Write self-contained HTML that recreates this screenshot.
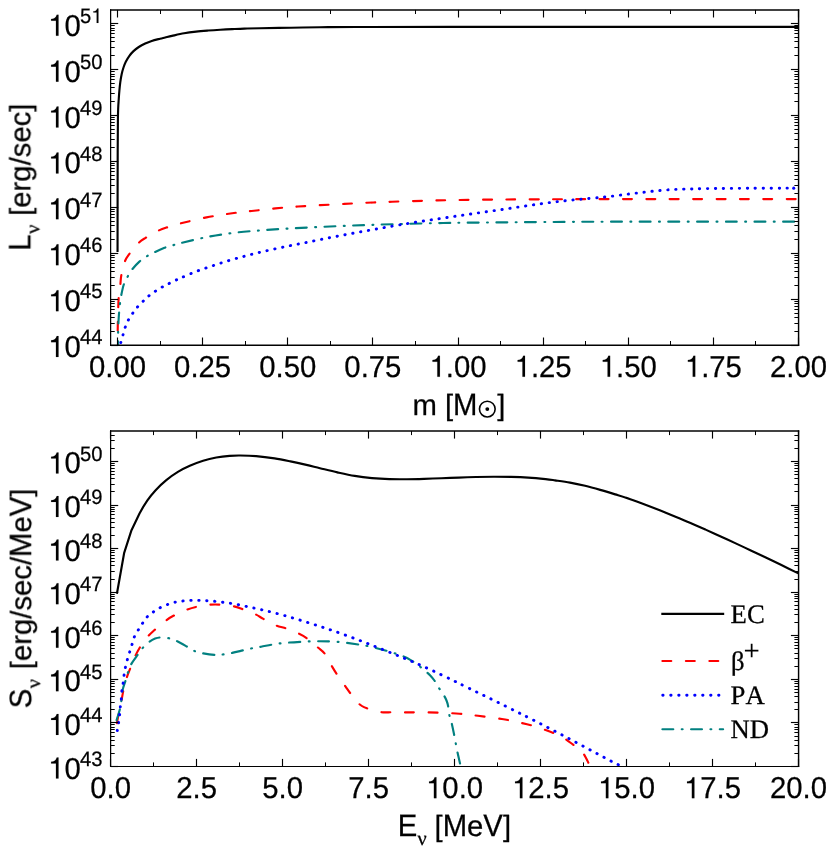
<!DOCTYPE html>
<html><head><meta charset="utf-8"><title>plot</title>
<style>html,body{margin:0;padding:0;background:#fff;}svg{display:block;will-change:transform;}text{text-rendering:geometricPrecision;}</style>
</head><body>
<svg width="830" height="852" viewBox="0 0 830 852">
<defs>
<clipPath id="c1"><rect x="110.62" y="9.9" width="687.88" height="335.20"/></clipPath>
<clipPath id="c2"><rect x="110.62" y="431.0" width="687.88" height="335.50"/></clipPath>
</defs>
<rect width="830" height="852" fill="#fff"/>
<g opacity="0.999">
<path d="M117.55,252.00 C117.56,243.33 117.57,217.00 117.60,200.00 C117.62,183.00 117.65,163.37 117.70,150.00 C117.75,136.63 117.82,126.80 117.90,119.80 C117.98,112.80 118.07,111.33 118.20,108.00 C118.33,104.67 118.50,102.73 118.70,99.80 C118.90,96.87 119.13,93.33 119.40,90.40 C119.67,87.47 119.92,84.93 120.30,82.20 C120.68,79.47 121.17,76.45 121.70,74.00 C122.23,71.55 122.82,69.55 123.50,67.50 C124.18,65.45 124.82,63.65 125.80,61.70 C126.78,59.75 128.12,57.57 129.40,55.80 C130.68,54.03 131.93,52.57 133.50,51.10 C135.07,49.63 136.85,48.27 138.80,47.00 C140.75,45.73 143.05,44.52 145.20,43.50 C147.35,42.48 149.23,41.70 151.70,40.90 C154.17,40.10 157.75,39.27 160.00,38.70 C162.25,38.13 163.20,37.97 165.20,37.50 C167.20,37.03 168.85,36.60 172.00,35.90 C175.15,35.20 180.08,34.02 184.10,33.30 C188.12,32.58 192.08,32.07 196.10,31.60 C200.12,31.13 204.18,30.82 208.20,30.50 C212.22,30.18 216.18,29.93 220.20,29.70 C224.22,29.47 228.28,29.28 232.30,29.10 C236.32,28.92 239.68,28.75 244.30,28.60 C248.92,28.45 252.22,28.35 260.00,28.20 C267.78,28.05 281.00,27.85 291.00,27.70 C301.00,27.55 309.17,27.42 320.00,27.30 C330.83,27.18 334.33,27.07 356.00,27.00 C377.67,26.93 409.33,26.92 450.00,26.90 C490.67,26.88 541.85,26.90 600.00,26.90 C658.15,26.90 765.75,26.90 798.90,26.90" fill="none" stroke="#000000" stroke-width="2.15" stroke-linejoin="round" stroke-linecap="butt" clip-path="url(#c1)"/>
<path d="M117.70,330.50 C117.73,328.75 117.78,324.58 117.90,320.00 C118.02,315.42 118.18,307.67 118.40,303.00 C118.62,298.33 118.88,295.00 119.20,292.00 C119.52,289.00 119.93,287.87 120.30,285.00 C120.67,282.13 120.65,278.70 121.40,274.80 C122.15,270.90 123.47,265.08 124.80,261.60 C126.13,258.12 127.15,256.97 129.40,253.90 C131.65,250.83 135.62,245.87 138.30,243.20 C140.98,240.53 142.27,239.93 145.50,237.90 C148.73,235.87 154.02,232.78 157.70,231.00 C161.38,229.22 163.88,228.45 167.60,227.20 C171.32,225.95 173.52,225.16 180.00,223.52 C186.48,221.89 198.10,219.05 206.50,217.38 C214.90,215.71 222.88,214.55 230.40,213.49 C237.92,212.42 244.10,211.84 251.60,210.99 C259.10,210.15 267.68,209.15 275.40,208.41 C283.12,207.67 290.38,207.10 297.90,206.55 C305.42,206.01 312.77,205.59 320.50,205.15 C328.23,204.71 336.57,204.30 344.30,203.91 C352.03,203.51 358.95,203.13 366.90,202.77 C374.85,202.41 380.20,202.14 392.00,201.75 C403.80,201.35 422.13,200.77 437.70,200.41 C453.27,200.06 469.52,199.79 485.40,199.62 C501.28,199.44 512.23,199.43 533.00,199.34 C553.77,199.26 565.68,199.14 610.00,199.10 C654.32,199.06 767.42,199.10 798.90,199.10" fill="none" stroke="#ff0000" stroke-width="2.15" stroke-linejoin="round" stroke-dasharray="8.842 14.505" stroke-dashoffset="0.000" stroke-linecap="round" clip-path="url(#c1)"/>
<path d="M118.10,345.10 C118.10,343.07 118.00,337.42 118.10,332.90 C118.20,328.38 118.40,322.77 118.70,318.00 C119.00,313.23 119.48,308.05 119.90,304.30 C120.32,300.55 120.55,298.80 121.20,295.50 C121.85,292.20 122.80,287.50 123.80,284.50 C124.80,281.50 125.88,279.92 127.20,277.50 C128.52,275.08 129.67,272.65 131.70,270.00 C133.73,267.35 136.93,263.85 139.40,261.60 C141.87,259.35 144.03,258.03 146.50,256.50 C148.97,254.97 151.20,253.85 154.20,252.40 C157.20,250.95 161.50,248.95 164.50,247.80 C167.50,246.65 169.52,246.28 172.20,245.50 C174.88,244.72 174.88,244.50 180.60,243.10 C186.32,241.71 197.77,238.84 206.50,237.14 C215.23,235.45 224.17,234.07 233.00,232.95 C241.83,231.84 250.67,231.17 259.50,230.45 C268.33,229.74 277.17,229.20 286.00,228.67 C294.83,228.14 303.67,227.71 312.50,227.28 C321.33,226.84 330.17,226.43 339.00,226.07 C347.83,225.70 356.67,225.39 365.50,225.08 C374.33,224.78 379.08,224.58 392.00,224.23 C404.92,223.89 425.67,223.33 443.00,223.02 C460.33,222.72 468.17,222.64 496.00,222.42 C523.83,222.20 559.52,221.82 610.00,221.70 C660.48,221.58 767.42,221.70 798.90,221.70" fill="none" stroke="#008080" stroke-width="2.15" stroke-linejoin="round" stroke-dasharray="10.887 8.440 0.899 8.440" stroke-dashoffset="6.967" stroke-linecap="round" clip-path="url(#c1)"/>
<path d="M120.80,342.60 C121.17,341.32 122.27,337.45 123.00,334.90 C123.73,332.35 124.30,329.80 125.20,327.30 C126.10,324.80 127.20,322.17 128.40,319.90 C129.60,317.63 131.03,315.68 132.40,313.70 C133.77,311.72 134.88,310.00 136.60,308.00 C138.32,306.00 140.77,303.63 142.70,301.70 C144.63,299.77 146.27,298.02 148.20,296.40 C150.13,294.78 152.17,293.40 154.30,291.96 C156.43,290.52 158.87,288.99 161.00,287.75 C163.13,286.51 164.85,285.69 167.10,284.53 C169.35,283.36 172.13,281.88 174.50,280.74 C176.87,279.61 177.73,279.24 181.30,277.71 C184.87,276.19 190.82,273.53 195.90,271.58 C200.98,269.64 206.50,267.83 211.80,266.05 C217.10,264.26 222.40,262.49 227.70,260.90 C233.00,259.30 238.52,257.83 243.60,256.46 C248.68,255.10 253.12,253.95 258.20,252.72 C263.28,251.49 268.80,250.26 274.10,249.09 C279.40,247.93 284.92,246.75 290.00,245.70 C295.08,244.65 299.52,243.84 304.60,242.80 C309.68,241.77 315.20,240.57 320.50,239.50 C325.80,238.43 331.10,237.41 336.40,236.39 C341.70,235.37 347.00,234.36 352.30,233.37 C357.60,232.38 362.90,231.41 368.20,230.46 C373.50,229.50 379.02,228.52 384.10,227.61 C389.18,226.71 394.85,225.69 398.70,225.02 C402.55,224.36 403.13,224.28 407.20,223.62 C411.27,222.96 417.80,221.88 423.10,221.06 C428.40,220.24 433.68,219.49 439.00,218.69 C444.32,217.90 449.70,217.08 455.00,216.29 C460.30,215.51 465.52,214.75 470.80,213.99 C476.08,213.22 481.40,212.46 486.70,211.70 C492.00,210.93 497.30,210.19 502.60,209.41 C507.90,208.63 513.20,207.80 518.50,207.01 C523.80,206.22 529.10,205.44 534.40,204.69 C539.70,203.94 545.00,203.18 550.30,202.50 C555.60,201.83 560.88,201.20 566.20,200.63 C571.52,200.06 576.90,199.57 582.20,199.07 C587.50,198.58 594.03,198.04 598.00,197.67 C601.97,197.30 603.45,197.12 606.00,196.85 C608.55,196.58 610.68,196.37 613.30,196.05 C615.92,195.73 619.02,195.28 621.70,194.93 C624.38,194.58 626.80,194.28 629.40,193.95 C632.00,193.63 634.77,193.29 637.30,192.99 C639.83,192.69 642.07,192.43 644.60,192.14 C647.13,191.84 649.90,191.51 652.50,191.24 C655.10,190.96 657.50,190.74 660.20,190.50 C662.90,190.25 666.08,189.97 668.70,189.78 C671.32,189.59 673.42,189.47 675.90,189.36 C678.38,189.25 680.98,189.19 683.60,189.12 C686.22,189.05 687.62,189.04 691.60,188.95 C695.58,188.87 697.77,188.71 707.50,188.60 C717.23,188.49 736.17,188.38 750.00,188.30 C763.83,188.23 783.75,188.18 790.50,188.15" fill="none" stroke="#0000ff" stroke-width="2.9" stroke-linejoin="round" stroke-dasharray="0.349 7.604" stroke-dashoffset="0.000" stroke-linecap="round" clip-path="url(#c1)"/>
<circle cx="793.7" cy="188.15" r="1.55" fill="#0000ff"/>
<path d="M116.90,593.80 L124.10,553.20 L131.50,530.20 L139.50,513.50 C142.15,508.54 144.75,504.29 147.40,500.45 C150.05,496.61 152.30,493.80 155.40,490.46 C158.50,487.12 162.25,483.49 166.00,480.41 C169.75,477.32 173.93,474.37 177.90,471.95 C181.87,469.52 185.60,467.70 189.80,465.85 C194.00,463.99 198.68,462.18 203.10,460.80 C207.52,459.41 211.88,458.38 216.30,457.55 C220.72,456.72 225.62,456.16 229.60,455.81 C233.58,455.47 235.78,455.43 240.20,455.47 C244.62,455.51 250.37,455.58 256.10,456.06 C261.83,456.54 268.87,457.45 274.60,458.34 C280.33,459.22 285.20,460.27 290.50,461.36 C295.80,462.45 301.48,463.73 306.40,464.86 C311.32,466.00 314.83,466.94 320.00,468.18 C325.17,469.43 331.62,471.06 337.40,472.35 C343.18,473.63 348.93,474.94 354.70,475.90 C360.47,476.85 366.22,477.55 372.00,478.09 C377.78,478.62 383.60,478.93 389.40,479.11 C395.20,479.30 401.02,479.26 406.80,479.21 C412.58,479.17 418.32,479.02 424.10,478.85 C429.88,478.68 435.72,478.42 441.50,478.21 C447.28,477.99 453.02,477.78 458.80,477.58 C464.58,477.37 470.42,477.14 476.20,477.00 C481.98,476.86 487.72,476.76 493.50,476.75 C499.28,476.74 505.12,476.79 510.90,476.93 C516.68,477.08 522.42,477.27 528.20,477.64 C533.98,478.00 541.13,478.68 545.60,479.13 C550.07,479.58 550.93,479.75 555.00,480.32 C559.07,480.90 564.98,481.66 570.00,482.57 C575.02,483.49 580.07,484.59 585.10,485.80 C590.13,487.02 595.18,488.44 600.20,489.87 C605.22,491.30 610.18,492.84 615.20,494.40 C620.22,495.95 625.27,497.46 630.30,499.17 C635.33,500.89 640.38,502.78 645.40,504.67 C650.42,506.56 655.38,508.50 660.40,510.50 C665.42,512.50 670.48,514.59 675.50,516.67 C680.52,518.74 685.48,520.80 690.50,522.96 C695.52,525.12 700.57,527.38 705.60,529.63 C710.63,531.89 715.68,534.19 720.70,536.48 C725.72,538.77 730.68,541.06 735.70,543.38 C740.72,545.71 745.78,548.08 750.80,550.44 C755.82,552.80 760.78,555.16 765.80,557.56 C770.82,559.95 775.38,562.13 780.90,564.80 C786.42,567.47 795.90,572.13 798.90,573.60" fill="none" stroke="#000000" stroke-width="2.15" stroke-linejoin="round" stroke-linecap="butt" clip-path="url(#c2)"/>
<path d="M116.90,723.20 C117.25,721.33 118.23,715.82 119.00,712.00 C119.77,708.18 120.73,704.05 121.50,700.30 C122.27,696.55 122.73,693.27 123.60,689.50 C124.47,685.73 125.60,681.20 126.70,677.70 C127.80,674.20 129.00,671.63 130.20,668.50 C131.40,665.37 132.32,662.37 133.90,658.90 C135.48,655.43 137.45,651.35 139.70,647.70 C141.95,644.05 144.98,639.90 147.40,637.00 C149.82,634.10 151.15,633.02 154.20,630.30 C157.25,627.58 162.50,623.12 165.70,620.70 C168.90,618.28 169.87,617.63 173.40,615.80 C176.93,613.97 182.88,611.23 186.90,609.70 C190.92,608.17 193.63,607.43 197.50,606.60 C201.37,605.77 206.23,605.02 210.10,604.70 C213.97,604.38 216.85,604.45 220.70,604.70 C224.55,604.95 229.52,605.43 233.20,606.20 C236.88,606.97 239.10,607.95 242.80,609.30 C246.50,610.65 251.97,612.70 255.40,614.30 C258.83,615.90 259.85,617.00 263.40,618.90 C266.95,620.80 273.08,624.17 276.70,625.70 C280.32,627.23 281.28,626.73 285.10,628.10 C288.92,629.47 295.98,632.22 299.60,633.90 C303.22,635.58 303.78,635.97 306.80,638.20 C309.82,640.43 314.68,644.68 317.70,647.30 C320.72,649.92 322.50,650.68 324.90,653.90 C327.30,657.12 330.10,663.20 332.10,666.60 C334.10,670.00 334.68,671.00 336.90,674.30 C339.12,677.60 343.18,683.27 345.40,686.40 C347.62,689.53 347.80,690.08 350.20,693.10 C352.60,696.12 356.78,701.88 359.80,704.50 C362.82,707.12 364.68,707.52 368.30,708.80 C371.92,710.08 377.50,711.63 381.50,712.20 C385.50,712.77 388.28,712.17 392.30,712.20 C396.32,712.23 399.57,712.37 405.60,712.40 C411.63,712.43 419.52,712.18 428.50,712.40 C437.48,712.62 451.25,713.13 459.50,713.70 C467.75,714.27 470.93,714.92 478.00,715.80 C485.07,716.68 495.72,718.03 501.90,719.00 C508.08,719.97 510.25,720.55 515.10,721.60 C519.95,722.65 526.13,723.97 531.00,725.30 C535.87,726.63 540.32,728.22 544.30,729.60 C548.28,730.98 551.55,732.13 554.90,733.60 C558.25,735.07 561.43,736.60 564.40,738.40 C567.37,740.20 570.27,742.58 572.70,744.40 C575.13,746.22 577.15,747.67 579.00,749.30 C580.85,750.93 582.25,751.98 583.80,754.20 C585.35,756.42 587.18,760.30 588.30,762.60 C589.42,764.90 590.13,767.10 590.50,768.00" fill="none" stroke="#ff0000" stroke-width="2.15" stroke-linejoin="round" stroke-dasharray="8.933 14.654" stroke-dashoffset="0.000" stroke-linecap="round" clip-path="url(#c2)"/>
<path d="M116.60,720.10 C117.27,717.77 119.62,711.02 120.60,706.10 C121.58,701.18 121.70,694.78 122.50,690.60 C123.30,686.42 124.48,684.05 125.40,681.00 C126.32,677.95 127.03,675.10 128.00,672.30 C128.97,669.50 129.55,667.17 131.20,664.20 C132.85,661.23 136.00,657.18 137.90,654.50 C139.80,651.82 140.70,650.20 142.60,648.10 C144.50,646.00 147.22,643.48 149.30,641.90 C151.38,640.32 153.17,639.35 155.10,638.60 C157.03,637.85 158.33,637.40 160.90,637.40 C163.47,637.40 167.77,637.95 170.50,638.60 C173.23,639.25 174.40,639.88 177.30,641.30 C180.20,642.72 184.85,645.40 187.90,647.10 C190.95,648.80 193.03,650.45 195.60,651.50 C198.17,652.55 199.93,652.82 203.30,653.40 C206.67,653.98 212.42,654.83 215.80,655.00 C219.18,655.17 220.87,654.75 223.60,654.40 C226.33,654.05 228.83,653.60 232.20,652.90 C235.57,652.20 240.42,650.98 243.80,650.20 C247.18,649.42 249.62,648.78 252.50,648.20 C255.38,647.62 256.67,647.48 261.10,646.70 C265.53,645.92 272.48,644.32 279.10,643.50 C285.72,642.68 294.37,642.17 300.80,641.80 C307.23,641.43 311.68,641.30 317.70,641.30 C323.72,641.30 330.08,641.27 336.90,641.80 C343.72,642.33 353.58,643.82 358.60,644.50 C363.62,645.18 362.38,644.87 367.00,645.90 C371.62,646.93 380.27,648.97 386.30,650.70 C392.33,652.43 398.98,654.65 403.20,656.30 C407.42,657.95 409.02,659.05 411.60,660.60 C414.18,662.15 416.38,663.82 418.70,665.60 C421.02,667.38 423.62,669.70 425.50,671.30 C427.38,672.90 428.52,673.67 430.00,675.20 C431.48,676.73 432.98,678.48 434.40,680.50 C435.82,682.52 436.98,684.93 438.50,687.30 C440.02,689.67 442.17,692.50 443.50,694.70 C444.83,696.90 445.73,698.62 446.50,700.50 C447.27,702.38 447.65,703.68 448.10,706.00 C448.55,708.32 448.63,711.67 449.20,714.40 C449.77,717.13 450.67,718.97 451.50,722.40 C452.33,725.83 453.52,731.63 454.20,735.00 C454.88,738.37 455.08,739.85 455.60,742.60 C456.12,745.35 456.58,748.12 457.30,751.50 C458.02,754.88 459.28,760.15 459.90,762.90 C460.52,765.65 460.82,767.15 461.00,768.00" fill="none" stroke="#008080" stroke-width="2.15" stroke-linejoin="round" stroke-dasharray="11.039 8.558 0.911 8.558" stroke-dashoffset="0.000" stroke-linecap="round" clip-path="url(#c2)"/>
<path d="M117.30,730.60 C117.52,729.27 118.22,725.22 118.60,722.60 C118.98,719.98 119.32,717.53 119.60,714.90 C119.88,712.27 120.02,709.45 120.30,706.80 C120.58,704.15 121.03,701.70 121.30,699.00 C121.57,696.30 121.58,693.33 121.90,690.60 C122.22,687.87 122.83,685.22 123.20,682.60 C123.57,679.98 123.73,677.43 124.10,674.90 C124.47,672.37 124.85,669.98 125.40,667.40 C125.95,664.82 126.68,661.98 127.40,659.40 C128.12,656.82 128.92,654.43 129.70,651.90 C130.48,649.37 131.30,646.77 132.10,644.20 C132.90,641.63 133.45,638.90 134.50,636.50 C135.55,634.10 136.98,632.12 138.40,629.80 C139.82,627.48 141.43,624.87 143.00,622.60 C144.57,620.33 145.92,618.08 147.80,616.20 C149.68,614.32 152.05,612.81 154.30,611.29 C156.55,609.78 158.82,608.32 161.30,607.09 C163.78,605.86 166.63,604.78 169.20,603.92 C171.77,603.05 174.13,602.44 176.70,601.92 C179.27,601.40 181.93,601.04 184.60,600.78 C187.27,600.52 190.03,600.42 192.70,600.36 C195.37,600.30 197.97,600.34 200.60,600.41 C203.23,600.49 205.87,600.62 208.50,600.79 C211.13,600.97 213.73,601.20 216.40,601.48 C219.07,601.75 221.87,602.09 224.50,602.45 C227.13,602.81 229.63,603.20 232.20,603.63 C234.77,604.06 237.27,604.52 239.90,605.04 C242.53,605.57 245.37,606.24 248.00,606.80 C250.63,607.36 253.12,607.85 255.70,608.41 C258.28,608.97 261.00,609.57 263.50,610.16 C266.00,610.74 266.90,610.93 270.70,611.92 C274.50,612.90 281.08,614.60 286.30,616.07 C291.52,617.54 296.77,619.13 302.00,620.74 C307.23,622.34 312.68,624.06 317.70,625.67 C322.72,627.29 327.08,628.70 332.10,630.42 C337.12,632.14 342.58,634.08 347.80,635.99 C353.02,637.89 358.38,639.92 363.40,641.86 C368.42,643.79 372.87,645.57 377.90,647.58 C382.93,649.59 388.58,651.89 393.60,653.93 C398.62,655.97 403.18,657.81 408.00,659.83 C412.82,661.84 417.48,663.79 422.50,666.03 C427.52,668.26 433.08,670.86 438.10,673.22 C443.12,675.57 449.03,678.43 452.60,680.16 C456.17,681.89 455.93,681.83 459.50,683.59 C463.07,685.34 469.15,688.33 474.00,690.70 C478.85,693.07 483.65,695.37 488.60,697.79 C493.55,700.21 498.75,702.76 503.70,705.21 C508.65,707.67 514.65,710.70 518.30,712.52 C521.95,714.35 522.00,714.35 525.60,716.16 C529.20,717.97 535.13,720.95 539.90,723.40 C544.67,725.85 549.42,728.36 554.20,730.85 C558.98,733.35 563.85,735.88 568.60,738.38 C573.35,740.89 577.95,743.35 582.70,745.89 C587.45,748.43 592.38,751.07 597.10,753.61 C601.82,756.15 607.47,759.25 611.00,761.10 C614.53,762.95 615.80,763.43 618.30,764.70 C620.80,765.97 624.72,768.03 626.00,768.70" fill="none" stroke="#0000ff" stroke-width="2.9" stroke-linejoin="round" stroke-dasharray="0.349 7.605" stroke-dashoffset="0.000" stroke-linecap="round" clip-path="url(#c2)"/>
<line x1="117.50" y1="345.10" x2="117.50" y2="337.50" stroke="#000" stroke-width="1.15"/>
<line x1="117.50" y1="9.90" x2="117.50" y2="17.50" stroke="#000" stroke-width="1.15"/>
<line x1="202.50" y1="345.10" x2="202.50" y2="337.50" stroke="#000" stroke-width="1.15"/>
<line x1="202.50" y1="9.90" x2="202.50" y2="17.50" stroke="#000" stroke-width="1.15"/>
<line x1="287.50" y1="345.10" x2="287.50" y2="337.50" stroke="#000" stroke-width="1.15"/>
<line x1="287.50" y1="9.90" x2="287.50" y2="17.50" stroke="#000" stroke-width="1.15"/>
<line x1="372.50" y1="345.10" x2="372.50" y2="337.50" stroke="#000" stroke-width="1.15"/>
<line x1="372.50" y1="9.90" x2="372.50" y2="17.50" stroke="#000" stroke-width="1.15"/>
<line x1="458.50" y1="345.10" x2="458.50" y2="337.50" stroke="#000" stroke-width="1.15"/>
<line x1="458.50" y1="9.90" x2="458.50" y2="17.50" stroke="#000" stroke-width="1.15"/>
<line x1="543.50" y1="345.10" x2="543.50" y2="337.50" stroke="#000" stroke-width="1.15"/>
<line x1="543.50" y1="9.90" x2="543.50" y2="17.50" stroke="#000" stroke-width="1.15"/>
<line x1="628.50" y1="345.10" x2="628.50" y2="337.50" stroke="#000" stroke-width="1.15"/>
<line x1="628.50" y1="9.90" x2="628.50" y2="17.50" stroke="#000" stroke-width="1.15"/>
<line x1="713.50" y1="345.10" x2="713.50" y2="337.50" stroke="#000" stroke-width="1.15"/>
<line x1="713.50" y1="9.90" x2="713.50" y2="17.50" stroke="#000" stroke-width="1.15"/>
<line x1="798.50" y1="345.10" x2="798.50" y2="337.50" stroke="#000" stroke-width="1.15"/>
<line x1="798.50" y1="9.90" x2="798.50" y2="17.50" stroke="#000" stroke-width="1.15"/>
<line x1="160.50" y1="345.10" x2="160.50" y2="341.00" stroke="#000" stroke-width="1.0"/>
<line x1="160.50" y1="9.90" x2="160.50" y2="14.00" stroke="#000" stroke-width="1.0"/>
<line x1="245.50" y1="345.10" x2="245.50" y2="341.00" stroke="#000" stroke-width="1.0"/>
<line x1="245.50" y1="9.90" x2="245.50" y2="14.00" stroke="#000" stroke-width="1.0"/>
<line x1="330.50" y1="345.10" x2="330.50" y2="341.00" stroke="#000" stroke-width="1.0"/>
<line x1="330.50" y1="9.90" x2="330.50" y2="14.00" stroke="#000" stroke-width="1.0"/>
<line x1="415.50" y1="345.10" x2="415.50" y2="341.00" stroke="#000" stroke-width="1.0"/>
<line x1="415.50" y1="9.90" x2="415.50" y2="14.00" stroke="#000" stroke-width="1.0"/>
<line x1="500.50" y1="345.10" x2="500.50" y2="341.00" stroke="#000" stroke-width="1.0"/>
<line x1="500.50" y1="9.90" x2="500.50" y2="14.00" stroke="#000" stroke-width="1.0"/>
<line x1="585.50" y1="345.10" x2="585.50" y2="341.00" stroke="#000" stroke-width="1.0"/>
<line x1="585.50" y1="9.90" x2="585.50" y2="14.00" stroke="#000" stroke-width="1.0"/>
<line x1="670.50" y1="345.10" x2="670.50" y2="341.00" stroke="#000" stroke-width="1.0"/>
<line x1="670.50" y1="9.90" x2="670.50" y2="14.00" stroke="#000" stroke-width="1.0"/>
<line x1="755.50" y1="345.10" x2="755.50" y2="341.00" stroke="#000" stroke-width="1.0"/>
<line x1="755.50" y1="9.90" x2="755.50" y2="14.00" stroke="#000" stroke-width="1.0"/>
<line x1="110.62" y1="345.50" x2="118.22" y2="345.50" stroke="#000" stroke-width="1.15"/>
<line x1="798.50" y1="345.50" x2="790.90" y2="345.50" stroke="#000" stroke-width="1.15"/>
<line x1="110.62" y1="331.50" x2="114.72" y2="331.50" stroke="#000" stroke-width="1.0"/>
<line x1="798.50" y1="331.50" x2="794.40" y2="331.50" stroke="#000" stroke-width="1.0"/>
<line x1="110.62" y1="323.50" x2="114.72" y2="323.50" stroke="#000" stroke-width="1.0"/>
<line x1="798.50" y1="323.50" x2="794.40" y2="323.50" stroke="#000" stroke-width="1.0"/>
<line x1="110.62" y1="317.50" x2="114.72" y2="317.50" stroke="#000" stroke-width="1.0"/>
<line x1="798.50" y1="317.50" x2="794.40" y2="317.50" stroke="#000" stroke-width="1.0"/>
<line x1="110.62" y1="313.50" x2="114.72" y2="313.50" stroke="#000" stroke-width="1.0"/>
<line x1="798.50" y1="313.50" x2="794.40" y2="313.50" stroke="#000" stroke-width="1.0"/>
<line x1="110.62" y1="309.50" x2="114.72" y2="309.50" stroke="#000" stroke-width="1.0"/>
<line x1="798.50" y1="309.50" x2="794.40" y2="309.50" stroke="#000" stroke-width="1.0"/>
<line x1="110.62" y1="306.50" x2="114.72" y2="306.50" stroke="#000" stroke-width="1.0"/>
<line x1="798.50" y1="306.50" x2="794.40" y2="306.50" stroke="#000" stroke-width="1.0"/>
<line x1="110.62" y1="303.50" x2="114.72" y2="303.50" stroke="#000" stroke-width="1.0"/>
<line x1="798.50" y1="303.50" x2="794.40" y2="303.50" stroke="#000" stroke-width="1.0"/>
<line x1="110.62" y1="301.50" x2="114.72" y2="301.50" stroke="#000" stroke-width="1.0"/>
<line x1="798.50" y1="301.50" x2="794.40" y2="301.50" stroke="#000" stroke-width="1.0"/>
<line x1="110.62" y1="299.50" x2="118.22" y2="299.50" stroke="#000" stroke-width="1.15"/>
<line x1="798.50" y1="299.50" x2="790.90" y2="299.50" stroke="#000" stroke-width="1.15"/>
<line x1="110.62" y1="285.50" x2="114.72" y2="285.50" stroke="#000" stroke-width="1.0"/>
<line x1="798.50" y1="285.50" x2="794.40" y2="285.50" stroke="#000" stroke-width="1.0"/>
<line x1="110.62" y1="277.50" x2="114.72" y2="277.50" stroke="#000" stroke-width="1.0"/>
<line x1="798.50" y1="277.50" x2="794.40" y2="277.50" stroke="#000" stroke-width="1.0"/>
<line x1="110.62" y1="271.50" x2="114.72" y2="271.50" stroke="#000" stroke-width="1.0"/>
<line x1="798.50" y1="271.50" x2="794.40" y2="271.50" stroke="#000" stroke-width="1.0"/>
<line x1="110.62" y1="267.50" x2="114.72" y2="267.50" stroke="#000" stroke-width="1.0"/>
<line x1="798.50" y1="267.50" x2="794.40" y2="267.50" stroke="#000" stroke-width="1.0"/>
<line x1="110.62" y1="263.50" x2="114.72" y2="263.50" stroke="#000" stroke-width="1.0"/>
<line x1="798.50" y1="263.50" x2="794.40" y2="263.50" stroke="#000" stroke-width="1.0"/>
<line x1="110.62" y1="260.50" x2="114.72" y2="260.50" stroke="#000" stroke-width="1.0"/>
<line x1="798.50" y1="260.50" x2="794.40" y2="260.50" stroke="#000" stroke-width="1.0"/>
<line x1="110.62" y1="257.50" x2="114.72" y2="257.50" stroke="#000" stroke-width="1.0"/>
<line x1="798.50" y1="257.50" x2="794.40" y2="257.50" stroke="#000" stroke-width="1.0"/>
<line x1="110.62" y1="255.50" x2="114.72" y2="255.50" stroke="#000" stroke-width="1.0"/>
<line x1="798.50" y1="255.50" x2="794.40" y2="255.50" stroke="#000" stroke-width="1.0"/>
<line x1="110.62" y1="253.50" x2="118.22" y2="253.50" stroke="#000" stroke-width="1.15"/>
<line x1="798.50" y1="253.50" x2="790.90" y2="253.50" stroke="#000" stroke-width="1.15"/>
<line x1="110.62" y1="239.50" x2="114.72" y2="239.50" stroke="#000" stroke-width="1.0"/>
<line x1="798.50" y1="239.50" x2="794.40" y2="239.50" stroke="#000" stroke-width="1.0"/>
<line x1="110.62" y1="231.50" x2="114.72" y2="231.50" stroke="#000" stroke-width="1.0"/>
<line x1="798.50" y1="231.50" x2="794.40" y2="231.50" stroke="#000" stroke-width="1.0"/>
<line x1="110.62" y1="225.50" x2="114.72" y2="225.50" stroke="#000" stroke-width="1.0"/>
<line x1="798.50" y1="225.50" x2="794.40" y2="225.50" stroke="#000" stroke-width="1.0"/>
<line x1="110.62" y1="221.50" x2="114.72" y2="221.50" stroke="#000" stroke-width="1.0"/>
<line x1="798.50" y1="221.50" x2="794.40" y2="221.50" stroke="#000" stroke-width="1.0"/>
<line x1="110.62" y1="217.50" x2="114.72" y2="217.50" stroke="#000" stroke-width="1.0"/>
<line x1="798.50" y1="217.50" x2="794.40" y2="217.50" stroke="#000" stroke-width="1.0"/>
<line x1="110.62" y1="214.50" x2="114.72" y2="214.50" stroke="#000" stroke-width="1.0"/>
<line x1="798.50" y1="214.50" x2="794.40" y2="214.50" stroke="#000" stroke-width="1.0"/>
<line x1="110.62" y1="211.50" x2="114.72" y2="211.50" stroke="#000" stroke-width="1.0"/>
<line x1="798.50" y1="211.50" x2="794.40" y2="211.50" stroke="#000" stroke-width="1.0"/>
<line x1="110.62" y1="209.50" x2="114.72" y2="209.50" stroke="#000" stroke-width="1.0"/>
<line x1="798.50" y1="209.50" x2="794.40" y2="209.50" stroke="#000" stroke-width="1.0"/>
<line x1="110.62" y1="207.50" x2="118.22" y2="207.50" stroke="#000" stroke-width="1.15"/>
<line x1="798.50" y1="207.50" x2="790.90" y2="207.50" stroke="#000" stroke-width="1.15"/>
<line x1="110.62" y1="193.50" x2="114.72" y2="193.50" stroke="#000" stroke-width="1.0"/>
<line x1="798.50" y1="193.50" x2="794.40" y2="193.50" stroke="#000" stroke-width="1.0"/>
<line x1="110.62" y1="185.50" x2="114.72" y2="185.50" stroke="#000" stroke-width="1.0"/>
<line x1="798.50" y1="185.50" x2="794.40" y2="185.50" stroke="#000" stroke-width="1.0"/>
<line x1="110.62" y1="179.50" x2="114.72" y2="179.50" stroke="#000" stroke-width="1.0"/>
<line x1="798.50" y1="179.50" x2="794.40" y2="179.50" stroke="#000" stroke-width="1.0"/>
<line x1="110.62" y1="175.50" x2="114.72" y2="175.50" stroke="#000" stroke-width="1.0"/>
<line x1="798.50" y1="175.50" x2="794.40" y2="175.50" stroke="#000" stroke-width="1.0"/>
<line x1="110.62" y1="171.50" x2="114.72" y2="171.50" stroke="#000" stroke-width="1.0"/>
<line x1="798.50" y1="171.50" x2="794.40" y2="171.50" stroke="#000" stroke-width="1.0"/>
<line x1="110.62" y1="168.50" x2="114.72" y2="168.50" stroke="#000" stroke-width="1.0"/>
<line x1="798.50" y1="168.50" x2="794.40" y2="168.50" stroke="#000" stroke-width="1.0"/>
<line x1="110.62" y1="165.50" x2="114.72" y2="165.50" stroke="#000" stroke-width="1.0"/>
<line x1="798.50" y1="165.50" x2="794.40" y2="165.50" stroke="#000" stroke-width="1.0"/>
<line x1="110.62" y1="163.50" x2="114.72" y2="163.50" stroke="#000" stroke-width="1.0"/>
<line x1="798.50" y1="163.50" x2="794.40" y2="163.50" stroke="#000" stroke-width="1.0"/>
<line x1="110.62" y1="161.50" x2="118.22" y2="161.50" stroke="#000" stroke-width="1.15"/>
<line x1="798.50" y1="161.50" x2="790.90" y2="161.50" stroke="#000" stroke-width="1.15"/>
<line x1="110.62" y1="147.50" x2="114.72" y2="147.50" stroke="#000" stroke-width="1.0"/>
<line x1="798.50" y1="147.50" x2="794.40" y2="147.50" stroke="#000" stroke-width="1.0"/>
<line x1="110.62" y1="139.50" x2="114.72" y2="139.50" stroke="#000" stroke-width="1.0"/>
<line x1="798.50" y1="139.50" x2="794.40" y2="139.50" stroke="#000" stroke-width="1.0"/>
<line x1="110.62" y1="133.50" x2="114.72" y2="133.50" stroke="#000" stroke-width="1.0"/>
<line x1="798.50" y1="133.50" x2="794.40" y2="133.50" stroke="#000" stroke-width="1.0"/>
<line x1="110.62" y1="129.50" x2="114.72" y2="129.50" stroke="#000" stroke-width="1.0"/>
<line x1="798.50" y1="129.50" x2="794.40" y2="129.50" stroke="#000" stroke-width="1.0"/>
<line x1="110.62" y1="125.50" x2="114.72" y2="125.50" stroke="#000" stroke-width="1.0"/>
<line x1="798.50" y1="125.50" x2="794.40" y2="125.50" stroke="#000" stroke-width="1.0"/>
<line x1="110.62" y1="122.50" x2="114.72" y2="122.50" stroke="#000" stroke-width="1.0"/>
<line x1="798.50" y1="122.50" x2="794.40" y2="122.50" stroke="#000" stroke-width="1.0"/>
<line x1="110.62" y1="119.50" x2="114.72" y2="119.50" stroke="#000" stroke-width="1.0"/>
<line x1="798.50" y1="119.50" x2="794.40" y2="119.50" stroke="#000" stroke-width="1.0"/>
<line x1="110.62" y1="117.50" x2="114.72" y2="117.50" stroke="#000" stroke-width="1.0"/>
<line x1="798.50" y1="117.50" x2="794.40" y2="117.50" stroke="#000" stroke-width="1.0"/>
<line x1="110.62" y1="115.50" x2="118.22" y2="115.50" stroke="#000" stroke-width="1.15"/>
<line x1="798.50" y1="115.50" x2="790.90" y2="115.50" stroke="#000" stroke-width="1.15"/>
<line x1="110.62" y1="101.50" x2="114.72" y2="101.50" stroke="#000" stroke-width="1.0"/>
<line x1="798.50" y1="101.50" x2="794.40" y2="101.50" stroke="#000" stroke-width="1.0"/>
<line x1="110.62" y1="93.50" x2="114.72" y2="93.50" stroke="#000" stroke-width="1.0"/>
<line x1="798.50" y1="93.50" x2="794.40" y2="93.50" stroke="#000" stroke-width="1.0"/>
<line x1="110.62" y1="87.50" x2="114.72" y2="87.50" stroke="#000" stroke-width="1.0"/>
<line x1="798.50" y1="87.50" x2="794.40" y2="87.50" stroke="#000" stroke-width="1.0"/>
<line x1="110.62" y1="83.50" x2="114.72" y2="83.50" stroke="#000" stroke-width="1.0"/>
<line x1="798.50" y1="83.50" x2="794.40" y2="83.50" stroke="#000" stroke-width="1.0"/>
<line x1="110.62" y1="79.50" x2="114.72" y2="79.50" stroke="#000" stroke-width="1.0"/>
<line x1="798.50" y1="79.50" x2="794.40" y2="79.50" stroke="#000" stroke-width="1.0"/>
<line x1="110.62" y1="76.50" x2="114.72" y2="76.50" stroke="#000" stroke-width="1.0"/>
<line x1="798.50" y1="76.50" x2="794.40" y2="76.50" stroke="#000" stroke-width="1.0"/>
<line x1="110.62" y1="74.50" x2="114.72" y2="74.50" stroke="#000" stroke-width="1.0"/>
<line x1="798.50" y1="74.50" x2="794.40" y2="74.50" stroke="#000" stroke-width="1.0"/>
<line x1="110.62" y1="71.50" x2="114.72" y2="71.50" stroke="#000" stroke-width="1.0"/>
<line x1="798.50" y1="71.50" x2="794.40" y2="71.50" stroke="#000" stroke-width="1.0"/>
<line x1="110.62" y1="69.50" x2="118.22" y2="69.50" stroke="#000" stroke-width="1.15"/>
<line x1="798.50" y1="69.50" x2="790.90" y2="69.50" stroke="#000" stroke-width="1.15"/>
<line x1="110.62" y1="55.50" x2="114.72" y2="55.50" stroke="#000" stroke-width="1.0"/>
<line x1="798.50" y1="55.50" x2="794.40" y2="55.50" stroke="#000" stroke-width="1.0"/>
<line x1="110.62" y1="47.50" x2="114.72" y2="47.50" stroke="#000" stroke-width="1.0"/>
<line x1="798.50" y1="47.50" x2="794.40" y2="47.50" stroke="#000" stroke-width="1.0"/>
<line x1="110.62" y1="41.50" x2="114.72" y2="41.50" stroke="#000" stroke-width="1.0"/>
<line x1="798.50" y1="41.50" x2="794.40" y2="41.50" stroke="#000" stroke-width="1.0"/>
<line x1="110.62" y1="37.50" x2="114.72" y2="37.50" stroke="#000" stroke-width="1.0"/>
<line x1="798.50" y1="37.50" x2="794.40" y2="37.50" stroke="#000" stroke-width="1.0"/>
<line x1="110.62" y1="33.50" x2="114.72" y2="33.50" stroke="#000" stroke-width="1.0"/>
<line x1="798.50" y1="33.50" x2="794.40" y2="33.50" stroke="#000" stroke-width="1.0"/>
<line x1="110.62" y1="30.50" x2="114.72" y2="30.50" stroke="#000" stroke-width="1.0"/>
<line x1="798.50" y1="30.50" x2="794.40" y2="30.50" stroke="#000" stroke-width="1.0"/>
<line x1="110.62" y1="28.50" x2="114.72" y2="28.50" stroke="#000" stroke-width="1.0"/>
<line x1="798.50" y1="28.50" x2="794.40" y2="28.50" stroke="#000" stroke-width="1.0"/>
<line x1="110.62" y1="25.50" x2="114.72" y2="25.50" stroke="#000" stroke-width="1.0"/>
<line x1="798.50" y1="25.50" x2="794.40" y2="25.50" stroke="#000" stroke-width="1.0"/>
<line x1="110.62" y1="23.50" x2="118.22" y2="23.50" stroke="#000" stroke-width="1.15"/>
<line x1="798.50" y1="23.50" x2="790.90" y2="23.50" stroke="#000" stroke-width="1.15"/>
<path d="M110.0,10.0 H799.2" stroke="#000" stroke-width="1.7" fill="none"/>
<path d="M110.0,345.23 H799.2" stroke="#000" stroke-width="1.33" fill="none"/>
<path d="M110.62,9.15 V345.90" stroke="#000" stroke-width="1.25" fill="none"/>
<path d="M798.58,9.15 V345.90" stroke="#000" stroke-width="1.45" fill="none"/>
<line x1="110.50" y1="766.50" x2="110.50" y2="758.90" stroke="#000" stroke-width="1.15"/>
<line x1="110.50" y1="431.00" x2="110.50" y2="438.60" stroke="#000" stroke-width="1.15"/>
<line x1="196.50" y1="766.50" x2="196.50" y2="758.90" stroke="#000" stroke-width="1.15"/>
<line x1="196.50" y1="431.00" x2="196.50" y2="438.60" stroke="#000" stroke-width="1.15"/>
<line x1="282.50" y1="766.50" x2="282.50" y2="758.90" stroke="#000" stroke-width="1.15"/>
<line x1="282.50" y1="431.00" x2="282.50" y2="438.60" stroke="#000" stroke-width="1.15"/>
<line x1="368.50" y1="766.50" x2="368.50" y2="758.90" stroke="#000" stroke-width="1.15"/>
<line x1="368.50" y1="431.00" x2="368.50" y2="438.60" stroke="#000" stroke-width="1.15"/>
<line x1="454.50" y1="766.50" x2="454.50" y2="758.90" stroke="#000" stroke-width="1.15"/>
<line x1="454.50" y1="431.00" x2="454.50" y2="438.60" stroke="#000" stroke-width="1.15"/>
<line x1="540.50" y1="766.50" x2="540.50" y2="758.90" stroke="#000" stroke-width="1.15"/>
<line x1="540.50" y1="431.00" x2="540.50" y2="438.60" stroke="#000" stroke-width="1.15"/>
<line x1="626.50" y1="766.50" x2="626.50" y2="758.90" stroke="#000" stroke-width="1.15"/>
<line x1="626.50" y1="431.00" x2="626.50" y2="438.60" stroke="#000" stroke-width="1.15"/>
<line x1="712.50" y1="766.50" x2="712.50" y2="758.90" stroke="#000" stroke-width="1.15"/>
<line x1="712.50" y1="431.00" x2="712.50" y2="438.60" stroke="#000" stroke-width="1.15"/>
<line x1="798.50" y1="766.50" x2="798.50" y2="758.90" stroke="#000" stroke-width="1.15"/>
<line x1="798.50" y1="431.00" x2="798.50" y2="438.60" stroke="#000" stroke-width="1.15"/>
<line x1="153.50" y1="766.50" x2="153.50" y2="762.40" stroke="#000" stroke-width="1.0"/>
<line x1="153.50" y1="431.00" x2="153.50" y2="435.10" stroke="#000" stroke-width="1.0"/>
<line x1="239.50" y1="766.50" x2="239.50" y2="762.40" stroke="#000" stroke-width="1.0"/>
<line x1="239.50" y1="431.00" x2="239.50" y2="435.10" stroke="#000" stroke-width="1.0"/>
<line x1="325.50" y1="766.50" x2="325.50" y2="762.40" stroke="#000" stroke-width="1.0"/>
<line x1="325.50" y1="431.00" x2="325.50" y2="435.10" stroke="#000" stroke-width="1.0"/>
<line x1="411.50" y1="766.50" x2="411.50" y2="762.40" stroke="#000" stroke-width="1.0"/>
<line x1="411.50" y1="431.00" x2="411.50" y2="435.10" stroke="#000" stroke-width="1.0"/>
<line x1="497.50" y1="766.50" x2="497.50" y2="762.40" stroke="#000" stroke-width="1.0"/>
<line x1="497.50" y1="431.00" x2="497.50" y2="435.10" stroke="#000" stroke-width="1.0"/>
<line x1="583.50" y1="766.50" x2="583.50" y2="762.40" stroke="#000" stroke-width="1.0"/>
<line x1="583.50" y1="431.00" x2="583.50" y2="435.10" stroke="#000" stroke-width="1.0"/>
<line x1="669.50" y1="766.50" x2="669.50" y2="762.40" stroke="#000" stroke-width="1.0"/>
<line x1="669.50" y1="431.00" x2="669.50" y2="435.10" stroke="#000" stroke-width="1.0"/>
<line x1="755.50" y1="766.50" x2="755.50" y2="762.40" stroke="#000" stroke-width="1.0"/>
<line x1="755.50" y1="431.00" x2="755.50" y2="435.10" stroke="#000" stroke-width="1.0"/>
<line x1="110.62" y1="766.50" x2="118.22" y2="766.50" stroke="#000" stroke-width="1.15"/>
<line x1="798.50" y1="766.50" x2="790.90" y2="766.50" stroke="#000" stroke-width="1.15"/>
<line x1="110.62" y1="753.50" x2="114.72" y2="753.50" stroke="#000" stroke-width="1.0"/>
<line x1="798.50" y1="753.50" x2="794.40" y2="753.50" stroke="#000" stroke-width="1.0"/>
<line x1="110.62" y1="745.50" x2="114.72" y2="745.50" stroke="#000" stroke-width="1.0"/>
<line x1="798.50" y1="745.50" x2="794.40" y2="745.50" stroke="#000" stroke-width="1.0"/>
<line x1="110.62" y1="740.50" x2="114.72" y2="740.50" stroke="#000" stroke-width="1.0"/>
<line x1="798.50" y1="740.50" x2="794.40" y2="740.50" stroke="#000" stroke-width="1.0"/>
<line x1="110.62" y1="736.50" x2="114.72" y2="736.50" stroke="#000" stroke-width="1.0"/>
<line x1="798.50" y1="736.50" x2="794.40" y2="736.50" stroke="#000" stroke-width="1.0"/>
<line x1="110.62" y1="732.50" x2="114.72" y2="732.50" stroke="#000" stroke-width="1.0"/>
<line x1="798.50" y1="732.50" x2="794.40" y2="732.50" stroke="#000" stroke-width="1.0"/>
<line x1="110.62" y1="729.50" x2="114.72" y2="729.50" stroke="#000" stroke-width="1.0"/>
<line x1="798.50" y1="729.50" x2="794.40" y2="729.50" stroke="#000" stroke-width="1.0"/>
<line x1="110.62" y1="727.50" x2="114.72" y2="727.50" stroke="#000" stroke-width="1.0"/>
<line x1="798.50" y1="727.50" x2="794.40" y2="727.50" stroke="#000" stroke-width="1.0"/>
<line x1="110.62" y1="724.50" x2="114.72" y2="724.50" stroke="#000" stroke-width="1.0"/>
<line x1="798.50" y1="724.50" x2="794.40" y2="724.50" stroke="#000" stroke-width="1.0"/>
<line x1="110.62" y1="722.50" x2="118.22" y2="722.50" stroke="#000" stroke-width="1.15"/>
<line x1="798.50" y1="722.50" x2="790.90" y2="722.50" stroke="#000" stroke-width="1.15"/>
<line x1="110.62" y1="709.50" x2="114.72" y2="709.50" stroke="#000" stroke-width="1.0"/>
<line x1="798.50" y1="709.50" x2="794.40" y2="709.50" stroke="#000" stroke-width="1.0"/>
<line x1="110.62" y1="702.50" x2="114.72" y2="702.50" stroke="#000" stroke-width="1.0"/>
<line x1="798.50" y1="702.50" x2="794.40" y2="702.50" stroke="#000" stroke-width="1.0"/>
<line x1="110.62" y1="696.50" x2="114.72" y2="696.50" stroke="#000" stroke-width="1.0"/>
<line x1="798.50" y1="696.50" x2="794.40" y2="696.50" stroke="#000" stroke-width="1.0"/>
<line x1="110.62" y1="692.50" x2="114.72" y2="692.50" stroke="#000" stroke-width="1.0"/>
<line x1="798.50" y1="692.50" x2="794.40" y2="692.50" stroke="#000" stroke-width="1.0"/>
<line x1="110.62" y1="689.50" x2="114.72" y2="689.50" stroke="#000" stroke-width="1.0"/>
<line x1="798.50" y1="689.50" x2="794.40" y2="689.50" stroke="#000" stroke-width="1.0"/>
<line x1="110.62" y1="686.50" x2="114.72" y2="686.50" stroke="#000" stroke-width="1.0"/>
<line x1="798.50" y1="686.50" x2="794.40" y2="686.50" stroke="#000" stroke-width="1.0"/>
<line x1="110.62" y1="683.50" x2="114.72" y2="683.50" stroke="#000" stroke-width="1.0"/>
<line x1="798.50" y1="683.50" x2="794.40" y2="683.50" stroke="#000" stroke-width="1.0"/>
<line x1="110.62" y1="681.50" x2="114.72" y2="681.50" stroke="#000" stroke-width="1.0"/>
<line x1="798.50" y1="681.50" x2="794.40" y2="681.50" stroke="#000" stroke-width="1.0"/>
<line x1="110.62" y1="679.50" x2="118.22" y2="679.50" stroke="#000" stroke-width="1.15"/>
<line x1="798.50" y1="679.50" x2="790.90" y2="679.50" stroke="#000" stroke-width="1.15"/>
<line x1="110.62" y1="666.50" x2="114.72" y2="666.50" stroke="#000" stroke-width="1.0"/>
<line x1="798.50" y1="666.50" x2="794.40" y2="666.50" stroke="#000" stroke-width="1.0"/>
<line x1="110.62" y1="658.50" x2="114.72" y2="658.50" stroke="#000" stroke-width="1.0"/>
<line x1="798.50" y1="658.50" x2="794.40" y2="658.50" stroke="#000" stroke-width="1.0"/>
<line x1="110.62" y1="653.50" x2="114.72" y2="653.50" stroke="#000" stroke-width="1.0"/>
<line x1="798.50" y1="653.50" x2="794.40" y2="653.50" stroke="#000" stroke-width="1.0"/>
<line x1="110.62" y1="648.50" x2="114.72" y2="648.50" stroke="#000" stroke-width="1.0"/>
<line x1="798.50" y1="648.50" x2="794.40" y2="648.50" stroke="#000" stroke-width="1.0"/>
<line x1="110.62" y1="645.50" x2="114.72" y2="645.50" stroke="#000" stroke-width="1.0"/>
<line x1="798.50" y1="645.50" x2="794.40" y2="645.50" stroke="#000" stroke-width="1.0"/>
<line x1="110.62" y1="642.50" x2="114.72" y2="642.50" stroke="#000" stroke-width="1.0"/>
<line x1="798.50" y1="642.50" x2="794.40" y2="642.50" stroke="#000" stroke-width="1.0"/>
<line x1="110.62" y1="639.50" x2="114.72" y2="639.50" stroke="#000" stroke-width="1.0"/>
<line x1="798.50" y1="639.50" x2="794.40" y2="639.50" stroke="#000" stroke-width="1.0"/>
<line x1="110.62" y1="637.50" x2="114.72" y2="637.50" stroke="#000" stroke-width="1.0"/>
<line x1="798.50" y1="637.50" x2="794.40" y2="637.50" stroke="#000" stroke-width="1.0"/>
<line x1="110.62" y1="635.50" x2="118.22" y2="635.50" stroke="#000" stroke-width="1.15"/>
<line x1="798.50" y1="635.50" x2="790.90" y2="635.50" stroke="#000" stroke-width="1.15"/>
<line x1="110.62" y1="622.50" x2="114.72" y2="622.50" stroke="#000" stroke-width="1.0"/>
<line x1="798.50" y1="622.50" x2="794.40" y2="622.50" stroke="#000" stroke-width="1.0"/>
<line x1="110.62" y1="614.50" x2="114.72" y2="614.50" stroke="#000" stroke-width="1.0"/>
<line x1="798.50" y1="614.50" x2="794.40" y2="614.50" stroke="#000" stroke-width="1.0"/>
<line x1="110.62" y1="609.50" x2="114.72" y2="609.50" stroke="#000" stroke-width="1.0"/>
<line x1="798.50" y1="609.50" x2="794.40" y2="609.50" stroke="#000" stroke-width="1.0"/>
<line x1="110.62" y1="605.50" x2="114.72" y2="605.50" stroke="#000" stroke-width="1.0"/>
<line x1="798.50" y1="605.50" x2="794.40" y2="605.50" stroke="#000" stroke-width="1.0"/>
<line x1="110.62" y1="601.50" x2="114.72" y2="601.50" stroke="#000" stroke-width="1.0"/>
<line x1="798.50" y1="601.50" x2="794.40" y2="601.50" stroke="#000" stroke-width="1.0"/>
<line x1="110.62" y1="598.50" x2="114.72" y2="598.50" stroke="#000" stroke-width="1.0"/>
<line x1="798.50" y1="598.50" x2="794.40" y2="598.50" stroke="#000" stroke-width="1.0"/>
<line x1="110.62" y1="596.50" x2="114.72" y2="596.50" stroke="#000" stroke-width="1.0"/>
<line x1="798.50" y1="596.50" x2="794.40" y2="596.50" stroke="#000" stroke-width="1.0"/>
<line x1="110.62" y1="594.50" x2="114.72" y2="594.50" stroke="#000" stroke-width="1.0"/>
<line x1="798.50" y1="594.50" x2="794.40" y2="594.50" stroke="#000" stroke-width="1.0"/>
<line x1="110.62" y1="592.50" x2="118.22" y2="592.50" stroke="#000" stroke-width="1.15"/>
<line x1="798.50" y1="592.50" x2="790.90" y2="592.50" stroke="#000" stroke-width="1.15"/>
<line x1="110.62" y1="579.50" x2="114.72" y2="579.50" stroke="#000" stroke-width="1.0"/>
<line x1="798.50" y1="579.50" x2="794.40" y2="579.50" stroke="#000" stroke-width="1.0"/>
<line x1="110.62" y1="571.50" x2="114.72" y2="571.50" stroke="#000" stroke-width="1.0"/>
<line x1="798.50" y1="571.50" x2="794.40" y2="571.50" stroke="#000" stroke-width="1.0"/>
<line x1="110.62" y1="565.50" x2="114.72" y2="565.50" stroke="#000" stroke-width="1.0"/>
<line x1="798.50" y1="565.50" x2="794.40" y2="565.50" stroke="#000" stroke-width="1.0"/>
<line x1="110.62" y1="561.50" x2="114.72" y2="561.50" stroke="#000" stroke-width="1.0"/>
<line x1="798.50" y1="561.50" x2="794.40" y2="561.50" stroke="#000" stroke-width="1.0"/>
<line x1="110.62" y1="558.50" x2="114.72" y2="558.50" stroke="#000" stroke-width="1.0"/>
<line x1="798.50" y1="558.50" x2="794.40" y2="558.50" stroke="#000" stroke-width="1.0"/>
<line x1="110.62" y1="555.50" x2="114.72" y2="555.50" stroke="#000" stroke-width="1.0"/>
<line x1="798.50" y1="555.50" x2="794.40" y2="555.50" stroke="#000" stroke-width="1.0"/>
<line x1="110.62" y1="552.50" x2="114.72" y2="552.50" stroke="#000" stroke-width="1.0"/>
<line x1="798.50" y1="552.50" x2="794.40" y2="552.50" stroke="#000" stroke-width="1.0"/>
<line x1="110.62" y1="550.50" x2="114.72" y2="550.50" stroke="#000" stroke-width="1.0"/>
<line x1="798.50" y1="550.50" x2="794.40" y2="550.50" stroke="#000" stroke-width="1.0"/>
<line x1="110.62" y1="548.50" x2="118.22" y2="548.50" stroke="#000" stroke-width="1.15"/>
<line x1="798.50" y1="548.50" x2="790.90" y2="548.50" stroke="#000" stroke-width="1.15"/>
<line x1="110.62" y1="535.50" x2="114.72" y2="535.50" stroke="#000" stroke-width="1.0"/>
<line x1="798.50" y1="535.50" x2="794.40" y2="535.50" stroke="#000" stroke-width="1.0"/>
<line x1="110.62" y1="527.50" x2="114.72" y2="527.50" stroke="#000" stroke-width="1.0"/>
<line x1="798.50" y1="527.50" x2="794.40" y2="527.50" stroke="#000" stroke-width="1.0"/>
<line x1="110.62" y1="522.50" x2="114.72" y2="522.50" stroke="#000" stroke-width="1.0"/>
<line x1="798.50" y1="522.50" x2="794.40" y2="522.50" stroke="#000" stroke-width="1.0"/>
<line x1="110.62" y1="518.50" x2="114.72" y2="518.50" stroke="#000" stroke-width="1.0"/>
<line x1="798.50" y1="518.50" x2="794.40" y2="518.50" stroke="#000" stroke-width="1.0"/>
<line x1="110.62" y1="514.50" x2="114.72" y2="514.50" stroke="#000" stroke-width="1.0"/>
<line x1="798.50" y1="514.50" x2="794.40" y2="514.50" stroke="#000" stroke-width="1.0"/>
<line x1="110.62" y1="511.50" x2="114.72" y2="511.50" stroke="#000" stroke-width="1.0"/>
<line x1="798.50" y1="511.50" x2="794.40" y2="511.50" stroke="#000" stroke-width="1.0"/>
<line x1="110.62" y1="509.50" x2="114.72" y2="509.50" stroke="#000" stroke-width="1.0"/>
<line x1="798.50" y1="509.50" x2="794.40" y2="509.50" stroke="#000" stroke-width="1.0"/>
<line x1="110.62" y1="507.50" x2="114.72" y2="507.50" stroke="#000" stroke-width="1.0"/>
<line x1="798.50" y1="507.50" x2="794.40" y2="507.50" stroke="#000" stroke-width="1.0"/>
<line x1="110.62" y1="505.50" x2="118.22" y2="505.50" stroke="#000" stroke-width="1.15"/>
<line x1="798.50" y1="505.50" x2="790.90" y2="505.50" stroke="#000" stroke-width="1.15"/>
<line x1="110.62" y1="491.50" x2="114.72" y2="491.50" stroke="#000" stroke-width="1.0"/>
<line x1="798.50" y1="491.50" x2="794.40" y2="491.50" stroke="#000" stroke-width="1.0"/>
<line x1="110.62" y1="484.50" x2="114.72" y2="484.50" stroke="#000" stroke-width="1.0"/>
<line x1="798.50" y1="484.50" x2="794.40" y2="484.50" stroke="#000" stroke-width="1.0"/>
<line x1="110.62" y1="478.50" x2="114.72" y2="478.50" stroke="#000" stroke-width="1.0"/>
<line x1="798.50" y1="478.50" x2="794.40" y2="478.50" stroke="#000" stroke-width="1.0"/>
<line x1="110.62" y1="474.50" x2="114.72" y2="474.50" stroke="#000" stroke-width="1.0"/>
<line x1="798.50" y1="474.50" x2="794.40" y2="474.50" stroke="#000" stroke-width="1.0"/>
<line x1="110.62" y1="471.50" x2="114.72" y2="471.50" stroke="#000" stroke-width="1.0"/>
<line x1="798.50" y1="471.50" x2="794.40" y2="471.50" stroke="#000" stroke-width="1.0"/>
<line x1="110.62" y1="468.50" x2="114.72" y2="468.50" stroke="#000" stroke-width="1.0"/>
<line x1="798.50" y1="468.50" x2="794.40" y2="468.50" stroke="#000" stroke-width="1.0"/>
<line x1="110.62" y1="465.50" x2="114.72" y2="465.50" stroke="#000" stroke-width="1.0"/>
<line x1="798.50" y1="465.50" x2="794.40" y2="465.50" stroke="#000" stroke-width="1.0"/>
<line x1="110.62" y1="463.50" x2="114.72" y2="463.50" stroke="#000" stroke-width="1.0"/>
<line x1="798.50" y1="463.50" x2="794.40" y2="463.50" stroke="#000" stroke-width="1.0"/>
<line x1="110.62" y1="461.50" x2="118.22" y2="461.50" stroke="#000" stroke-width="1.15"/>
<line x1="798.50" y1="461.50" x2="790.90" y2="461.50" stroke="#000" stroke-width="1.15"/>
<line x1="110.62" y1="448.50" x2="114.72" y2="448.50" stroke="#000" stroke-width="1.0"/>
<line x1="798.50" y1="448.50" x2="794.40" y2="448.50" stroke="#000" stroke-width="1.0"/>
<line x1="110.62" y1="440.50" x2="114.72" y2="440.50" stroke="#000" stroke-width="1.0"/>
<line x1="798.50" y1="440.50" x2="794.40" y2="440.50" stroke="#000" stroke-width="1.0"/>
<line x1="110.62" y1="435.50" x2="114.72" y2="435.50" stroke="#000" stroke-width="1.0"/>
<line x1="798.50" y1="435.50" x2="794.40" y2="435.50" stroke="#000" stroke-width="1.0"/>
<path d="M110.0,431.0 H799.2" stroke="#000" stroke-width="1.7" fill="none"/>
<path d="M110.0,766.5 H799.2" stroke="#000" stroke-width="1.2" fill="none"/>
<path d="M110.62,430.15 V767.10" stroke="#000" stroke-width="1.25" fill="none"/>
<path d="M798.58,430.15 V767.10" stroke="#000" stroke-width="1.45" fill="none"/>
<text transform="translate(88.99,376.80) scale(1,1.032)" x="0.00 24.44 40.73" font-family='"Liberation Sans", sans-serif' font-size="29.3" fill="#000" stroke="#000" stroke-width="0.25" style="font-kerning:none">000</text>
<text transform="translate(88.99,376.80) scale(1,1)" x="16.29" font-family='"Liberation Sans", sans-serif' font-size="29.3" fill="#000" stroke="#000" stroke-width="0.25" style="font-kerning:none">.</text>
<text transform="translate(90.26,798.20) scale(1,1.032)" x="0.00 24.44" font-family='"Liberation Sans", sans-serif' font-size="29.3" fill="#000" stroke="#000" stroke-width="0.25" style="font-kerning:none">00</text>
<text transform="translate(90.26,798.20) scale(1,1)" x="16.29" font-family='"Liberation Sans", sans-serif' font-size="29.3" fill="#000" stroke="#000" stroke-width="0.25" style="font-kerning:none">.</text>
<text transform="translate(174.12,376.80) scale(1,1.032)" x="0.00 24.44 40.73" font-family='"Liberation Sans", sans-serif' font-size="29.3" fill="#000" stroke="#000" stroke-width="0.25" style="font-kerning:none">025</text>
<text transform="translate(174.12,376.80) scale(1,1)" x="16.29" font-family='"Liberation Sans", sans-serif' font-size="29.3" fill="#000" stroke="#000" stroke-width="0.25" style="font-kerning:none">.</text>
<text transform="translate(176.24,798.20) scale(1,1.032)" x="0.00 24.44" font-family='"Liberation Sans", sans-serif' font-size="29.3" fill="#000" stroke="#000" stroke-width="0.25" style="font-kerning:none">25</text>
<text transform="translate(176.24,798.20) scale(1,1)" x="16.29" font-family='"Liberation Sans", sans-serif' font-size="29.3" fill="#000" stroke="#000" stroke-width="0.25" style="font-kerning:none">.</text>
<text transform="translate(259.24,376.80) scale(1,1.032)" x="0.00 24.44 40.73" font-family='"Liberation Sans", sans-serif' font-size="29.3" fill="#000" stroke="#000" stroke-width="0.25" style="font-kerning:none">050</text>
<text transform="translate(259.24,376.80) scale(1,1)" x="16.29" font-family='"Liberation Sans", sans-serif' font-size="29.3" fill="#000" stroke="#000" stroke-width="0.25" style="font-kerning:none">.</text>
<text transform="translate(262.23,798.20) scale(1,1.032)" x="0.00 24.44" font-family='"Liberation Sans", sans-serif' font-size="29.3" fill="#000" stroke="#000" stroke-width="0.25" style="font-kerning:none">50</text>
<text transform="translate(262.23,798.20) scale(1,1)" x="16.29" font-family='"Liberation Sans", sans-serif' font-size="29.3" fill="#000" stroke="#000" stroke-width="0.25" style="font-kerning:none">.</text>
<text transform="translate(344.37,376.80) scale(1,1.032)" x="0.00 24.44 40.73" font-family='"Liberation Sans", sans-serif' font-size="29.3" fill="#000" stroke="#000" stroke-width="0.25" style="font-kerning:none">075</text>
<text transform="translate(344.37,376.80) scale(1,1)" x="16.29" font-family='"Liberation Sans", sans-serif' font-size="29.3" fill="#000" stroke="#000" stroke-width="0.25" style="font-kerning:none">.</text>
<text transform="translate(348.21,798.20) scale(1,1.032)" x="0.00 24.44" font-family='"Liberation Sans", sans-serif' font-size="29.3" fill="#000" stroke="#000" stroke-width="0.25" style="font-kerning:none">75</text>
<text transform="translate(348.21,798.20) scale(1,1)" x="16.29" font-family='"Liberation Sans", sans-serif' font-size="29.3" fill="#000" stroke="#000" stroke-width="0.25" style="font-kerning:none">.</text>
<path d="M0.267,0 L0.267,-0.505 L0.102,-0.505 L0.102,-0.566 C0.200,-0.570 0.262,-0.602 0.295,-0.709 L0.355,-0.709 L0.355,0 Z" transform="translate(429.49,376.80) scale(29.3,29.652)" fill="#000" stroke="#000" stroke-width="0.0041"/>
<text transform="translate(429.49,376.80) scale(1,1.032)" x="24.44 40.73" font-family='"Liberation Sans", sans-serif' font-size="29.3" fill="#000" stroke="#000" stroke-width="0.25" style="font-kerning:none">00</text>
<text transform="translate(429.49,376.80) scale(1,1)" x="16.29" font-family='"Liberation Sans", sans-serif' font-size="29.3" fill="#000" stroke="#000" stroke-width="0.25" style="font-kerning:none">.</text>
<path d="M0.267,0 L0.267,-0.505 L0.102,-0.505 L0.102,-0.566 C0.200,-0.570 0.262,-0.602 0.295,-0.709 L0.355,-0.709 L0.355,0 Z" transform="translate(426.05,798.20) scale(29.3,29.652)" fill="#000" stroke="#000" stroke-width="0.0041"/>
<text transform="translate(426.05,798.20) scale(1,1.032)" x="16.29 40.73" font-family='"Liberation Sans", sans-serif' font-size="29.3" fill="#000" stroke="#000" stroke-width="0.25" style="font-kerning:none">00</text>
<text transform="translate(426.05,798.20) scale(1,1)" x="32.58" font-family='"Liberation Sans", sans-serif' font-size="29.3" fill="#000" stroke="#000" stroke-width="0.25" style="font-kerning:none">.</text>
<path d="M0.267,0 L0.267,-0.505 L0.102,-0.505 L0.102,-0.566 C0.200,-0.570 0.262,-0.602 0.295,-0.709 L0.355,-0.709 L0.355,0 Z" transform="translate(514.62,376.80) scale(29.3,29.652)" fill="#000" stroke="#000" stroke-width="0.0041"/>
<text transform="translate(514.62,376.80) scale(1,1.032)" x="24.44 40.73" font-family='"Liberation Sans", sans-serif' font-size="29.3" fill="#000" stroke="#000" stroke-width="0.25" style="font-kerning:none">25</text>
<text transform="translate(514.62,376.80) scale(1,1)" x="16.29" font-family='"Liberation Sans", sans-serif' font-size="29.3" fill="#000" stroke="#000" stroke-width="0.25" style="font-kerning:none">.</text>
<path d="M0.267,0 L0.267,-0.505 L0.102,-0.505 L0.102,-0.566 C0.200,-0.570 0.262,-0.602 0.295,-0.709 L0.355,-0.709 L0.355,0 Z" transform="translate(512.04,798.20) scale(29.3,29.652)" fill="#000" stroke="#000" stroke-width="0.0041"/>
<text transform="translate(512.04,798.20) scale(1,1.032)" x="16.29 40.73" font-family='"Liberation Sans", sans-serif' font-size="29.3" fill="#000" stroke="#000" stroke-width="0.25" style="font-kerning:none">25</text>
<text transform="translate(512.04,798.20) scale(1,1)" x="32.58" font-family='"Liberation Sans", sans-serif' font-size="29.3" fill="#000" stroke="#000" stroke-width="0.25" style="font-kerning:none">.</text>
<path d="M0.267,0 L0.267,-0.505 L0.102,-0.505 L0.102,-0.566 C0.200,-0.570 0.262,-0.602 0.295,-0.709 L0.355,-0.709 L0.355,0 Z" transform="translate(599.74,376.80) scale(29.3,29.652)" fill="#000" stroke="#000" stroke-width="0.0041"/>
<text transform="translate(599.74,376.80) scale(1,1.032)" x="24.44 40.73" font-family='"Liberation Sans", sans-serif' font-size="29.3" fill="#000" stroke="#000" stroke-width="0.25" style="font-kerning:none">50</text>
<text transform="translate(599.74,376.80) scale(1,1)" x="16.29" font-family='"Liberation Sans", sans-serif' font-size="29.3" fill="#000" stroke="#000" stroke-width="0.25" style="font-kerning:none">.</text>
<path d="M0.267,0 L0.267,-0.505 L0.102,-0.505 L0.102,-0.566 C0.200,-0.570 0.262,-0.602 0.295,-0.709 L0.355,-0.709 L0.355,0 Z" transform="translate(598.02,798.20) scale(29.3,29.652)" fill="#000" stroke="#000" stroke-width="0.0041"/>
<text transform="translate(598.02,798.20) scale(1,1.032)" x="16.29 40.73" font-family='"Liberation Sans", sans-serif' font-size="29.3" fill="#000" stroke="#000" stroke-width="0.25" style="font-kerning:none">50</text>
<text transform="translate(598.02,798.20) scale(1,1)" x="32.58" font-family='"Liberation Sans", sans-serif' font-size="29.3" fill="#000" stroke="#000" stroke-width="0.25" style="font-kerning:none">.</text>
<path d="M0.267,0 L0.267,-0.505 L0.102,-0.505 L0.102,-0.566 C0.200,-0.570 0.262,-0.602 0.295,-0.709 L0.355,-0.709 L0.355,0 Z" transform="translate(684.87,376.80) scale(29.3,29.652)" fill="#000" stroke="#000" stroke-width="0.0041"/>
<text transform="translate(684.87,376.80) scale(1,1.032)" x="24.44 40.73" font-family='"Liberation Sans", sans-serif' font-size="29.3" fill="#000" stroke="#000" stroke-width="0.25" style="font-kerning:none">75</text>
<text transform="translate(684.87,376.80) scale(1,1)" x="16.29" font-family='"Liberation Sans", sans-serif' font-size="29.3" fill="#000" stroke="#000" stroke-width="0.25" style="font-kerning:none">.</text>
<path d="M0.267,0 L0.267,-0.505 L0.102,-0.505 L0.102,-0.566 C0.200,-0.570 0.262,-0.602 0.295,-0.709 L0.355,-0.709 L0.355,0 Z" transform="translate(684.01,798.20) scale(29.3,29.652)" fill="#000" stroke="#000" stroke-width="0.0041"/>
<text transform="translate(684.01,798.20) scale(1,1.032)" x="16.29 40.73" font-family='"Liberation Sans", sans-serif' font-size="29.3" fill="#000" stroke="#000" stroke-width="0.25" style="font-kerning:none">75</text>
<text transform="translate(684.01,798.20) scale(1,1)" x="32.58" font-family='"Liberation Sans", sans-serif' font-size="29.3" fill="#000" stroke="#000" stroke-width="0.25" style="font-kerning:none">.</text>
<text transform="translate(769.99,376.80) scale(1,1.032)" x="0.00 24.44 40.73" font-family='"Liberation Sans", sans-serif' font-size="29.3" fill="#000" stroke="#000" stroke-width="0.25" style="font-kerning:none">200</text>
<text transform="translate(769.99,376.80) scale(1,1)" x="16.29" font-family='"Liberation Sans", sans-serif' font-size="29.3" fill="#000" stroke="#000" stroke-width="0.25" style="font-kerning:none">.</text>
<text transform="translate(769.99,798.20) scale(1,1.032)" x="0.00 16.29 40.73" font-family='"Liberation Sans", sans-serif' font-size="29.3" fill="#000" stroke="#000" stroke-width="0.25" style="font-kerning:none">200</text>
<text transform="translate(769.99,798.20) scale(1,1)" x="32.58" font-family='"Liberation Sans", sans-serif' font-size="29.3" fill="#000" stroke="#000" stroke-width="0.25" style="font-kerning:none">.</text>
<text transform="translate(80.04,344.30) scale(1,1.032)" x="0.00 11.23" font-family='"Liberation Sans", sans-serif' font-size="20.2" fill="#000" stroke="#000" stroke-width="0.25" style="font-kerning:none">44</text>
<path d="M0.267,0 L0.267,-0.505 L0.102,-0.505 L0.102,-0.566 C0.200,-0.570 0.262,-0.602 0.295,-0.709 L0.355,-0.709 L0.355,0 Z" transform="translate(48.12,357.10) scale(29.3,29.652)" fill="#000" stroke="#000" stroke-width="0.0041"/>
<text transform="translate(48.12,357.10) scale(1,1.032)" x="16.29" font-family='"Liberation Sans", sans-serif' font-size="29.3" fill="#000" stroke="#000" stroke-width="0.25" style="font-kerning:none">0</text>
<text transform="translate(80.04,298.39) scale(1,1.032)" x="0.00 11.23" font-family='"Liberation Sans", sans-serif' font-size="20.2" fill="#000" stroke="#000" stroke-width="0.25" style="font-kerning:none">45</text>
<path d="M0.267,0 L0.267,-0.505 L0.102,-0.505 L0.102,-0.566 C0.200,-0.570 0.262,-0.602 0.295,-0.709 L0.355,-0.709 L0.355,0 Z" transform="translate(48.12,311.19) scale(29.3,29.652)" fill="#000" stroke="#000" stroke-width="0.0041"/>
<text transform="translate(48.12,311.19) scale(1,1.032)" x="16.29" font-family='"Liberation Sans", sans-serif' font-size="29.3" fill="#000" stroke="#000" stroke-width="0.25" style="font-kerning:none">0</text>
<text transform="translate(80.04,252.48) scale(1,1.032)" x="0.00 11.23" font-family='"Liberation Sans", sans-serif' font-size="20.2" fill="#000" stroke="#000" stroke-width="0.25" style="font-kerning:none">46</text>
<path d="M0.267,0 L0.267,-0.505 L0.102,-0.505 L0.102,-0.566 C0.200,-0.570 0.262,-0.602 0.295,-0.709 L0.355,-0.709 L0.355,0 Z" transform="translate(48.12,265.28) scale(29.3,29.652)" fill="#000" stroke="#000" stroke-width="0.0041"/>
<text transform="translate(48.12,265.28) scale(1,1.032)" x="16.29" font-family='"Liberation Sans", sans-serif' font-size="29.3" fill="#000" stroke="#000" stroke-width="0.25" style="font-kerning:none">0</text>
<text transform="translate(80.04,206.57) scale(1,1.032)" x="0.00 11.23" font-family='"Liberation Sans", sans-serif' font-size="20.2" fill="#000" stroke="#000" stroke-width="0.25" style="font-kerning:none">47</text>
<path d="M0.267,0 L0.267,-0.505 L0.102,-0.505 L0.102,-0.566 C0.200,-0.570 0.262,-0.602 0.295,-0.709 L0.355,-0.709 L0.355,0 Z" transform="translate(48.12,219.37) scale(29.3,29.652)" fill="#000" stroke="#000" stroke-width="0.0041"/>
<text transform="translate(48.12,219.37) scale(1,1.032)" x="16.29" font-family='"Liberation Sans", sans-serif' font-size="29.3" fill="#000" stroke="#000" stroke-width="0.25" style="font-kerning:none">0</text>
<text transform="translate(80.04,160.65) scale(1,1.032)" x="0.00 11.23" font-family='"Liberation Sans", sans-serif' font-size="20.2" fill="#000" stroke="#000" stroke-width="0.25" style="font-kerning:none">48</text>
<path d="M0.267,0 L0.267,-0.505 L0.102,-0.505 L0.102,-0.566 C0.200,-0.570 0.262,-0.602 0.295,-0.709 L0.355,-0.709 L0.355,0 Z" transform="translate(48.12,173.45) scale(29.3,29.652)" fill="#000" stroke="#000" stroke-width="0.0041"/>
<text transform="translate(48.12,173.45) scale(1,1.032)" x="16.29" font-family='"Liberation Sans", sans-serif' font-size="29.3" fill="#000" stroke="#000" stroke-width="0.25" style="font-kerning:none">0</text>
<text transform="translate(80.04,114.74) scale(1,1.032)" x="0.00 11.23" font-family='"Liberation Sans", sans-serif' font-size="20.2" fill="#000" stroke="#000" stroke-width="0.25" style="font-kerning:none">49</text>
<path d="M0.267,0 L0.267,-0.505 L0.102,-0.505 L0.102,-0.566 C0.200,-0.570 0.262,-0.602 0.295,-0.709 L0.355,-0.709 L0.355,0 Z" transform="translate(48.12,127.54) scale(29.3,29.652)" fill="#000" stroke="#000" stroke-width="0.0041"/>
<text transform="translate(48.12,127.54) scale(1,1.032)" x="16.29" font-family='"Liberation Sans", sans-serif' font-size="29.3" fill="#000" stroke="#000" stroke-width="0.25" style="font-kerning:none">0</text>
<text transform="translate(80.04,68.83) scale(1,1.032)" x="0.00 11.23" font-family='"Liberation Sans", sans-serif' font-size="20.2" fill="#000" stroke="#000" stroke-width="0.25" style="font-kerning:none">50</text>
<path d="M0.267,0 L0.267,-0.505 L0.102,-0.505 L0.102,-0.566 C0.200,-0.570 0.262,-0.602 0.295,-0.709 L0.355,-0.709 L0.355,0 Z" transform="translate(48.12,81.63) scale(29.3,29.652)" fill="#000" stroke="#000" stroke-width="0.0041"/>
<text transform="translate(48.12,81.63) scale(1,1.032)" x="16.29" font-family='"Liberation Sans", sans-serif' font-size="29.3" fill="#000" stroke="#000" stroke-width="0.25" style="font-kerning:none">0</text>
<path d="M0.267,0 L0.267,-0.505 L0.102,-0.505 L0.102,-0.566 C0.200,-0.570 0.262,-0.602 0.295,-0.709 L0.355,-0.709 L0.355,0 Z" transform="translate(91.27,22.92) scale(20.2,20.442)" fill="#000" stroke="#000" stroke-width="0.0059"/>
<text transform="translate(80.04,22.92) scale(1,1.032)" x="0.00" font-family='"Liberation Sans", sans-serif' font-size="20.2" fill="#000" stroke="#000" stroke-width="0.25" style="font-kerning:none">5</text>
<path d="M0.267,0 L0.267,-0.505 L0.102,-0.505 L0.102,-0.566 C0.200,-0.570 0.262,-0.602 0.295,-0.709 L0.355,-0.709 L0.355,0 Z" transform="translate(48.12,35.72) scale(29.3,29.652)" fill="#000" stroke="#000" stroke-width="0.0041"/>
<text transform="translate(48.12,35.72) scale(1,1.032)" x="16.29" font-family='"Liberation Sans", sans-serif' font-size="29.3" fill="#000" stroke="#000" stroke-width="0.25" style="font-kerning:none">0</text>
<text transform="translate(80.04,765.70) scale(1,1.032)" x="0.00 11.23" font-family='"Liberation Sans", sans-serif' font-size="20.2" fill="#000" stroke="#000" stroke-width="0.25" style="font-kerning:none">43</text>
<path d="M0.267,0 L0.267,-0.505 L0.102,-0.505 L0.102,-0.566 C0.200,-0.570 0.262,-0.602 0.295,-0.709 L0.355,-0.709 L0.355,0 Z" transform="translate(48.12,778.50) scale(29.3,29.652)" fill="#000" stroke="#000" stroke-width="0.0041"/>
<text transform="translate(48.12,778.50) scale(1,1.032)" x="16.29" font-family='"Liberation Sans", sans-serif' font-size="29.3" fill="#000" stroke="#000" stroke-width="0.25" style="font-kerning:none">0</text>
<text transform="translate(80.04,722.12) scale(1,1.032)" x="0.00 11.23" font-family='"Liberation Sans", sans-serif' font-size="20.2" fill="#000" stroke="#000" stroke-width="0.25" style="font-kerning:none">44</text>
<path d="M0.267,0 L0.267,-0.505 L0.102,-0.505 L0.102,-0.566 C0.200,-0.570 0.262,-0.602 0.295,-0.709 L0.355,-0.709 L0.355,0 Z" transform="translate(48.12,734.92) scale(29.3,29.652)" fill="#000" stroke="#000" stroke-width="0.0041"/>
<text transform="translate(48.12,734.92) scale(1,1.032)" x="16.29" font-family='"Liberation Sans", sans-serif' font-size="29.3" fill="#000" stroke="#000" stroke-width="0.25" style="font-kerning:none">0</text>
<text transform="translate(80.04,678.55) scale(1,1.032)" x="0.00 11.23" font-family='"Liberation Sans", sans-serif' font-size="20.2" fill="#000" stroke="#000" stroke-width="0.25" style="font-kerning:none">45</text>
<path d="M0.267,0 L0.267,-0.505 L0.102,-0.505 L0.102,-0.566 C0.200,-0.570 0.262,-0.602 0.295,-0.709 L0.355,-0.709 L0.355,0 Z" transform="translate(48.12,691.35) scale(29.3,29.652)" fill="#000" stroke="#000" stroke-width="0.0041"/>
<text transform="translate(48.12,691.35) scale(1,1.032)" x="16.29" font-family='"Liberation Sans", sans-serif' font-size="29.3" fill="#000" stroke="#000" stroke-width="0.25" style="font-kerning:none">0</text>
<text transform="translate(80.04,634.97) scale(1,1.032)" x="0.00 11.23" font-family='"Liberation Sans", sans-serif' font-size="20.2" fill="#000" stroke="#000" stroke-width="0.25" style="font-kerning:none">46</text>
<path d="M0.267,0 L0.267,-0.505 L0.102,-0.505 L0.102,-0.566 C0.200,-0.570 0.262,-0.602 0.295,-0.709 L0.355,-0.709 L0.355,0 Z" transform="translate(48.12,647.77) scale(29.3,29.652)" fill="#000" stroke="#000" stroke-width="0.0041"/>
<text transform="translate(48.12,647.77) scale(1,1.032)" x="16.29" font-family='"Liberation Sans", sans-serif' font-size="29.3" fill="#000" stroke="#000" stroke-width="0.25" style="font-kerning:none">0</text>
<text transform="translate(80.04,591.39) scale(1,1.032)" x="0.00 11.23" font-family='"Liberation Sans", sans-serif' font-size="20.2" fill="#000" stroke="#000" stroke-width="0.25" style="font-kerning:none">47</text>
<path d="M0.267,0 L0.267,-0.505 L0.102,-0.505 L0.102,-0.566 C0.200,-0.570 0.262,-0.602 0.295,-0.709 L0.355,-0.709 L0.355,0 Z" transform="translate(48.12,604.19) scale(29.3,29.652)" fill="#000" stroke="#000" stroke-width="0.0041"/>
<text transform="translate(48.12,604.19) scale(1,1.032)" x="16.29" font-family='"Liberation Sans", sans-serif' font-size="29.3" fill="#000" stroke="#000" stroke-width="0.25" style="font-kerning:none">0</text>
<text transform="translate(80.04,547.81) scale(1,1.032)" x="0.00 11.23" font-family='"Liberation Sans", sans-serif' font-size="20.2" fill="#000" stroke="#000" stroke-width="0.25" style="font-kerning:none">48</text>
<path d="M0.267,0 L0.267,-0.505 L0.102,-0.505 L0.102,-0.566 C0.200,-0.570 0.262,-0.602 0.295,-0.709 L0.355,-0.709 L0.355,0 Z" transform="translate(48.12,560.61) scale(29.3,29.652)" fill="#000" stroke="#000" stroke-width="0.0041"/>
<text transform="translate(48.12,560.61) scale(1,1.032)" x="16.29" font-family='"Liberation Sans", sans-serif' font-size="29.3" fill="#000" stroke="#000" stroke-width="0.25" style="font-kerning:none">0</text>
<text transform="translate(80.04,504.24) scale(1,1.032)" x="0.00 11.23" font-family='"Liberation Sans", sans-serif' font-size="20.2" fill="#000" stroke="#000" stroke-width="0.25" style="font-kerning:none">49</text>
<path d="M0.267,0 L0.267,-0.505 L0.102,-0.505 L0.102,-0.566 C0.200,-0.570 0.262,-0.602 0.295,-0.709 L0.355,-0.709 L0.355,0 Z" transform="translate(48.12,517.04) scale(29.3,29.652)" fill="#000" stroke="#000" stroke-width="0.0041"/>
<text transform="translate(48.12,517.04) scale(1,1.032)" x="16.29" font-family='"Liberation Sans", sans-serif' font-size="29.3" fill="#000" stroke="#000" stroke-width="0.25" style="font-kerning:none">0</text>
<text transform="translate(80.04,460.66) scale(1,1.032)" x="0.00 11.23" font-family='"Liberation Sans", sans-serif' font-size="20.2" fill="#000" stroke="#000" stroke-width="0.25" style="font-kerning:none">50</text>
<path d="M0.267,0 L0.267,-0.505 L0.102,-0.505 L0.102,-0.566 C0.200,-0.570 0.262,-0.602 0.295,-0.709 L0.355,-0.709 L0.355,0 Z" transform="translate(48.12,473.46) scale(29.3,29.652)" fill="#000" stroke="#000" stroke-width="0.0041"/>
<text transform="translate(48.12,473.46) scale(1,1.032)" x="16.29" font-family='"Liberation Sans", sans-serif' font-size="29.3" fill="#000" stroke="#000" stroke-width="0.25" style="font-kerning:none">0</text>
<text transform="translate(412.40,415.10) scale(1,1.056)" x="40.69" font-family='"Liberation Sans", sans-serif' font-size="29.3" fill="#000" stroke="#000" stroke-width="0.25" style="font-kerning:none">M</text>
<text transform="translate(412.40,415.10) scale(1,1)" x="0.00 32.55" font-family='"Liberation Sans", sans-serif' font-size="29.3" fill="#000" stroke="#000" stroke-width="0.25" style="font-kerning:none">m[</text>
<circle cx="487.3" cy="409.1" r="7.85" fill="none" stroke="#000" stroke-width="1.6"/>
<circle cx="487.3" cy="409.1" r="1.95" fill="#000"/>
<text transform="translate(497.20,415.10) scale(1,1)" x="0.00" font-family='"Liberation Sans", sans-serif' font-size="29.3" fill="#000" stroke="#000" stroke-width="0.25" style="font-kerning:none">]</text>
<text transform="translate(397.70,835.90) scale(1,1.056)" x="0.00" font-family='"Liberation Sans", sans-serif' font-size="29.3" fill="#000" stroke="#000" stroke-width="0.25" style="font-kerning:none">E</text>
<text x="417.4" y="845.1" font-family='"Liberation Serif", serif' font-size="20.3" fill="#000" stroke="#000" stroke-width="0.3">&#957;</text>
<text transform="translate(434.50,835.90) scale(1,1.056)" x="8.14 48.84" font-family='"Liberation Sans", sans-serif' font-size="29.3" fill="#000" stroke="#000" stroke-width="0.25" style="font-kerning:none">MV</text>
<text transform="translate(434.50,835.90) scale(1,1)" x="0.00 32.55 68.39" font-family='"Liberation Sans", sans-serif' font-size="29.3" fill="#000" stroke="#000" stroke-width="0.25" style="font-kerning:none">[e]</text>
<g transform="translate(30.3,250.8) rotate(-90)">
<text transform="translate(0.00,0.00) scale(1,1.056)" x="0.00" font-family='"Liberation Sans", sans-serif' font-size="29.3" fill="#000" stroke="#000" stroke-width="0.25" style="font-kerning:none">L</text>
<text x="17.0" y="9.2" font-family='"Liberation Serif", serif' font-size="20.3" fill="#000" stroke="#000" stroke-width="0.3">&#957;</text>
<text transform="translate(34.90,0.00) scale(1,1)" x="0.00 8.14 24.44 34.19 50.49 58.63 73.28 89.57 104.22" font-family='"Liberation Sans", sans-serif' font-size="29.3" fill="#000" stroke="#000" stroke-width="0.25" style="font-kerning:none">[erg/sec]</text>
</g>
<g transform="translate(31.1,708.3) rotate(-90)">
<text transform="translate(0.00,0.00) scale(1,1.056)" x="0.00" font-family='"Liberation Sans", sans-serif' font-size="29.3" fill="#000" stroke="#000" stroke-width="0.25" style="font-kerning:none">S</text>
<text x="20.0" y="9.2" font-family='"Liberation Serif", serif' font-size="20.3" fill="#000" stroke="#000" stroke-width="0.3">&#957;</text>
<text transform="translate(39.00,0.00) scale(1,1.056)" x="112.36 153.07" font-family='"Liberation Sans", sans-serif' font-size="29.3" fill="#000" stroke="#000" stroke-width="0.25" style="font-kerning:none">MV</text>
<text transform="translate(39.00,0.00) scale(1,1)" x="0.00 8.14 24.44 34.19 50.49 58.63 73.28 89.57 104.22 136.77 172.61" font-family='"Liberation Sans", sans-serif' font-size="29.3" fill="#000" stroke="#000" stroke-width="0.25" style="font-kerning:none">[erg/sec/e]</text>
</g>
<path d="M661.30,613.8 L724.20,613.8" fill="none" stroke="#000000" stroke-width="2.15"/>
<path d="M662.38,661.0 L723.12,661.0" fill="none" stroke="#ff0000" stroke-width="2.15" stroke-dasharray="8.9 14.6" stroke-dashoffset="0" stroke-linecap="round"/>
<path d="M662.75,695.2 L722.75,695.2" fill="none" stroke="#0000ff" stroke-width="2.9" stroke-dasharray="0.35 7.63" stroke-dashoffset="0" stroke-linecap="round"/>
<path d="M662.38,729.2 L723.12,729.2" fill="none" stroke="#008080" stroke-width="2.15" stroke-dasharray="10.9 8.45 0.9 8.45" stroke-dashoffset="0" stroke-linecap="round"/>
<text x="730.60" y="622.90" font-family='"Liberation Serif", serif' font-size="26.7" text-anchor="start" fill="#000" stroke="#000" stroke-width="0.3" style="font-kerning:none">EC</text>
<text x="731.00" y="669.80" font-family='"Liberation Serif", serif' font-size="26.7" text-anchor="start" fill="#000" stroke="#000" stroke-width="0.3" style="font-kerning:none">&#946;</text>
<path d="M744.9,650.6 H758.4 M751.65,643.85 V657.35" stroke="#000" stroke-width="1.75" fill="none"/>
<text x="730.60" y="704.20" font-family='"Liberation Serif", serif' font-size="26.7" text-anchor="start" fill="#000" stroke="#000" stroke-width="0.3" style="font-kerning:none">PA</text>
<text x="730.60" y="738.00" font-family='"Liberation Serif", serif' font-size="26.7" text-anchor="start" fill="#000" stroke="#000" stroke-width="0.3" style="font-kerning:none">ND</text>
</g>
</svg>
</body></html>
